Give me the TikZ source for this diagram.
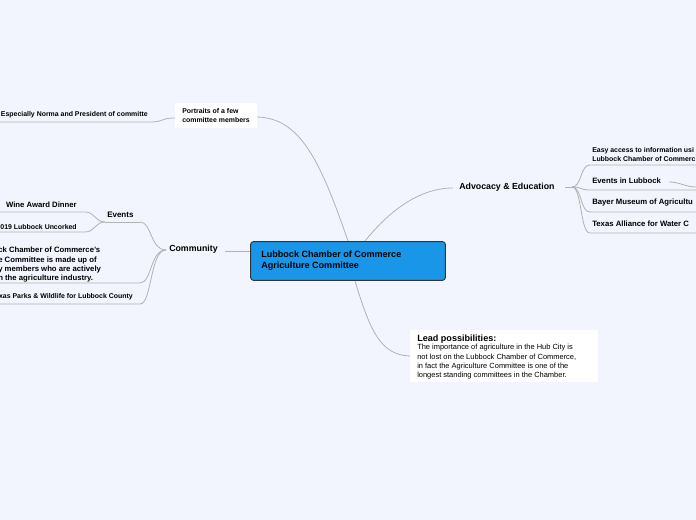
\documentclass[tikz,border=0pt]{standalone}
\usepackage{fontspec}
\setmainfont{Liberation Sans}
\begin{document}
\begin{tikzpicture}[x=0.75pt,y=-0.75pt,
 t/.style={inner sep=0pt,anchor=west,align=left,font=\fontsize{5.2}{6.2}\selectfont\bfseries},
 m/.style={inner sep=0pt,font=\fontsize{6.6}{8}\selectfont},
 ln/.style={draw=black!30,line width=0.6pt},
 wb/.style={fill=white,draw=none,minimum width=0pt}]
\fill[fill={rgb,255:red,242;green,245;blue,254}] (0,0) rectangle (696,520);
\useasboundingbox (0,0) rectangle (696,520);
\clip (0,0) rectangle (696,520);
% central
\node[draw=black!80,fill={rgb,255:red,26;green,150;blue,232},rounded corners=2pt,minimum width=146pt,minimum height=29pt,line width=0.7pt] (c) at (348,261) {};
\node[t,font=\fontsize{6.8}{8}\selectfont\bfseries] (ct) at (261,261) {Lubbock Chamber of Commerce\\Agriculture Committee};
% portraits
\fill[white] (175,103) rectangle (257,128);
\node[t] (por) at (182,115.5) {Portraits of a few\\committee members};
\node[t,anchor=east] (nor) at (148,115) {Especially Norma and President of committe};
\coordinate (porL) at (175,118);
\draw[ln] (348,241) .. controls (320,160) and (300,118) .. (257,117);
\draw[ln] (porL) .. controls (160,118) and (165,122) .. (150,122) -- (0,122);
% community
\node[m,font=\fontsize{6.6}{8}\selectfont\bfseries,anchor=west] (com) at (169,249) {Community};
\draw[ln] (250,251) -- (225,251);
\draw[ln] (166,250) .. controls (150,250) and (152,222) .. (140,222);
\node[t,font=\fontsize{6}{7}\selectfont\bfseries] (ev) at (107,215) {Events};
\draw[ln] (105,222) -- (140,222);
\node[t,font=\fontsize{5.8}{7}\selectfont\bfseries,anchor=east] (w) at (77,205) {Wine Award Dinner};
\draw[ln] (105,222) .. controls (95,222) and (95,212) .. (85,212) -- (0,212);
\node[t,anchor=east] (u) at (77,227) {019 Lubbock Uncorked};
\draw[ln] (105,222) .. controls (95,222) and (95,232) .. (85,232) -- (0,232);
\node[t,font=\fontsize{5.8}{7}\selectfont\bfseries,anchor=west] (lc) at (-2,265) {ck Chamber of Commerce's\\e Committee is made up of\\y members who are actively\\n the agriculture industry.};
\draw[ln] (166,250) .. controls (150,250) and (152,283) .. (140,283) -- (0,283);
\node[t,anchor=east] (tp) at (133,297) {xas Parks \& Wildlife for Lubbock County};
\draw[ln] (166,250) .. controls (150,250) and (152,304) .. (140,304) -- (0,304);
% advocacy
\node[m,font=\fontsize{6.6}{8}\selectfont\bfseries,anchor=west] (adv) at (459,187) {Advocacy \& Education};
\draw[ln] (365,241) .. controls (390,210) and (420,188) .. (453,188);
\draw[ln] (565,187) -- (572,187);
\foreach \y/\yy in {160/165,181/190,203/212,224/233}{
 \draw[ln] (572,187) .. controls (582,187) and (580,\yy) .. (590,\yy) -- (696,\yy);}
\node[t] (ea) at (592,154.5) {Easy access to information usi\\Lubbock Chamber of Commerc};
\node[t,font=\fontsize{5.8}{7}\selectfont\bfseries] (el) at (592,181) {Events in Lubbock};
\draw[ln] (669,182) .. controls (680,182) and (685,187) .. (696,187);
\node[t,font=\fontsize{5.8}{7}\selectfont\bfseries] (bm) at (592,203) {Bayer Museum of Agricultu};
\node[t,font=\fontsize{5.8}{7}\selectfont\bfseries] (ta) at (592,224) {Texas Alliance for Water C};
% lead
\fill[white] (410,330) rectangle (598,382);
\draw[ln] (355,281) .. controls (370,330) and (380,355) .. (410,356);
\node[t,font=\fontsize{6.8}{8}\selectfont\bfseries] (lp) at (417,339) {Lead possibilities:};
\node[t,font=\fontsize{5.6}{7}\selectfont,anchor=north west] (ld) at (417,344) {The importance of agriculture in the Hub City is\\not lost on the Lubbock Chamber of Commerce,\\in fact the Agriculture Committee is one of the\\longest standing committees in the Chamber.};
\end{tikzpicture}
\end{document}
